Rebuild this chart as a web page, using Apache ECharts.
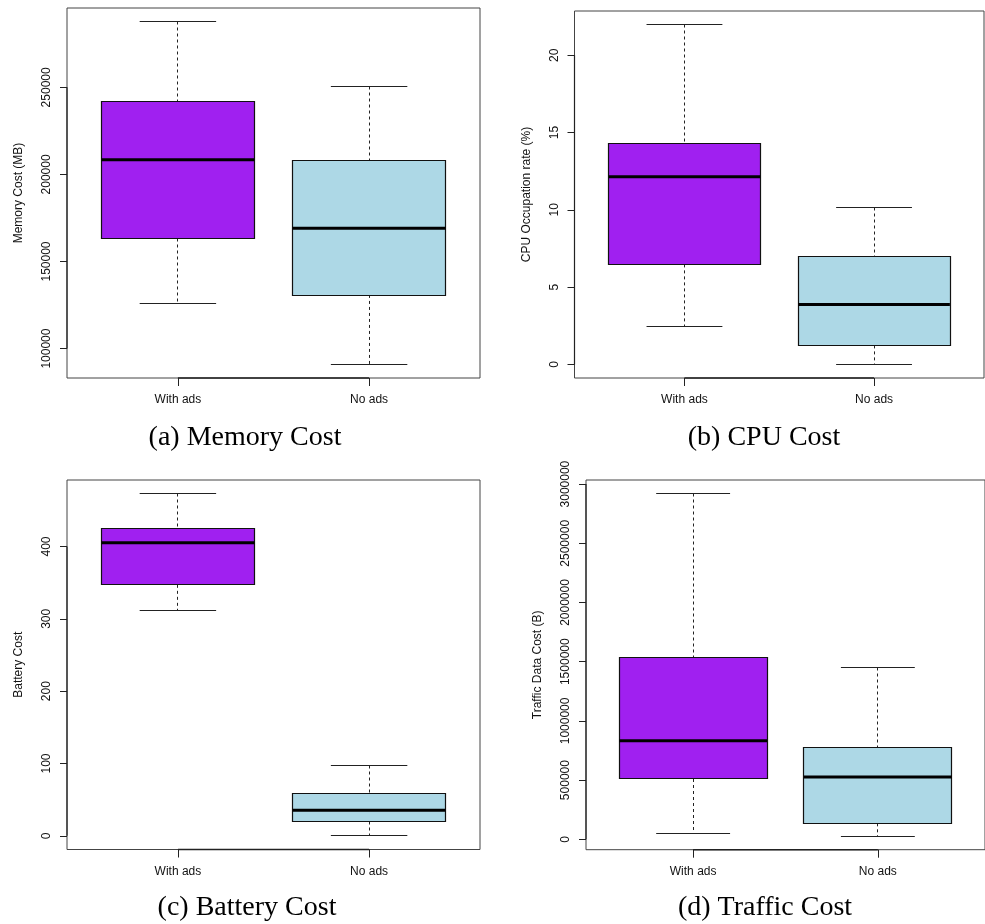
<!DOCTYPE html>
<html>
<head>
<meta charset="utf-8">
<script src="https://cdn.jsdelivr.net/npm/echarts@6/dist/echarts.min.js"></script>
<style>
  html, body { margin: 0; padding: 0; background: #fff; }
  #chart { width: 985px; height: 924px; }
</style>
</head>
<body>
<div id="chart"></div>
<script>
// Groups on the x axis
const categories = ['With ads', 'No ads'];

// Five-number summaries per group: [lower whisker, Q1, median, Q3, upper whisker]
const memoryWithAds = [125860, 163220, 208400, 241950, 287700];
const memoryNoAds   = [90980, 130810, 169140, 208050, 250750];
const cpuWithAds    = [2.48, 6.47, 12.14, 14.30, 21.98];
const cpuNoAds      = [0, 1.23, 3.88, 7.01, 10.12];
const batteryWithAds = [312, 347, 405, 425, 473];
const batteryNoAds   = [0, 19.8, 35.5, 58.1, 97.2];
const trafficWithAds = [50700, 509300, 832800, 1533800, 2918900];
const trafficNoAds   = [27900, 135100, 526200, 773600, 1449300];

// Y tick labels
const memoryTicks  = [100000, 150000, 200000, 250000];
const cpuTicks     = [0, 5, 10, 15, 20];
const batteryTicks = [0, 100, 200, 300, 400];
const trafficTicks = [0, 500000, 1000000, 1500000, 2000000, 2500000, 3000000];

// Axis titles and captions
const yTitles  = ['Memory Cost (MB)', 'CPU Occupation rate (%)', 'Battery Cost', 'Traffic Data Cost (B)'];
const captions = ['(a) Memory Cost', '(b) CPU Cost', '(c) Battery Cost', '(d) Traffic Cost'];

const fills = ['#A020F0', '#ADD8E6'];
const SANS = '"Liberation Sans", Arial, Helvetica, sans-serif';
const SERIF = '"Liberation Serif", "Times New Roman", serif';

const panels = [
  { groups: [memoryWithAds, memoryNoAds], ticks: memoryTicks, title: yTitles[0],
    grid: { left: 67, top: 8, width: 413, height: 370 }, caption: captions[0], cx: 245, cy: 438 },
  { groups: [cpuWithAds, cpuNoAds], ticks: cpuTicks, title: yTitles[1],
    grid: { left: 574.5, top: 11, width: 409.5, height: 367 }, caption: captions[1], cx: 764, cy: 438 },
  { groups: [batteryWithAds, batteryNoAds], ticks: batteryTicks, title: yTitles[2],
    grid: { left: 67, top: 480, width: 413, height: 369.5 }, caption: captions[2], cx: 247, cy: 908 },
  { groups: [trafficWithAds, trafficNoAds], ticks: trafficTicks, title: yTitles[3],
    grid: { left: 586, top: 480, width: 413.4, height: 369.7 }, caption: captions[3], cx: 765, cy: 908 }
];

const X_MIN = 0.42, X_MAX = 2.58;

function yRange(groups) {
  const all = groups.flat();
  const lo = Math.min(...all), hi = Math.max(...all);
  const pad = 0.04 * (hi - lo);
  return [lo - pad, hi + pad];
}

function crisp(v) { return Math.round(v - 0.5) + 0.5; }

// Box-and-whisker glyph for one group
function renderBox(params, api) {
  const x = api.value(0);
  const lo = api.value(1), q1 = api.value(2), med = api.value(3), q3 = api.value(4), hi = api.value(5);
  const fill = fills[params.dataIndex % fills.length];
  const c = api.coord([x, med]);
  const xc = crisp(c[0]);
  const boxL = api.coord([x - 0.4, q3]);
  const boxR = api.coord([x + 0.4, q1]);
  const capL = api.coord([x - 0.2, hi])[0];
  const capR = api.coord([x + 0.2, hi])[0];
  const yLo = crisp(api.coord([x, lo])[1]);
  const yHi = crisp(api.coord([x, hi])[1]);
  const yQ1 = boxR[1], yQ3 = boxL[1], yMed = c[1];
  const dash = { stroke: '#222', lineWidth: 1, lineDash: [3, 3] };
  const solid = { stroke: '#222', lineWidth: 1 };
  return {
    type: 'group',
    children: [
      { type: 'line', shape: { x1: xc, y1: yHi, x2: xc, y2: yQ3 }, style: dash },
      { type: 'line', shape: { x1: xc, y1: yQ1, x2: xc, y2: yLo }, style: dash },
      { type: 'line', shape: { x1: capL, y1: yHi, x2: capR, y2: yHi }, style: solid },
      { type: 'line', shape: { x1: capL, y1: yLo, x2: capR, y2: yLo }, style: solid },
      { type: 'rect', shape: { x: crisp(boxL[0]), y: crisp(yQ3), width: Math.round(boxR[0] - boxL[0]), height: Math.round(yQ1 - yQ3) },
        style: { fill: fill, stroke: '#111', lineWidth: 1.2 } },
      { type: 'line', shape: { x1: boxL[0], y1: yMed, x2: boxR[0], y2: yMed }, style: { stroke: '#000', lineWidth: 3 } }
    ]
  };
}

const grids = [], xAxes = [], yAxes = [], series = [], graphics = [];

panels.forEach((p, i) => {
  const [yMin, yMax] = yRange(p.groups);
  grids.push(Object.assign({ show: true, borderColor: '#444', borderWidth: 1, backgroundColor: 'transparent', containLabel: false }, p.grid));
  xAxes.push({
    type: 'value', gridIndex: i, min: X_MIN, max: X_MAX, position: 'bottom',
    axisLine: { show: false, onZero: false },
    splitLine: { show: false },
    axisTick: { show: true, customValues: [1, 2], length: 8, lineStyle: { color: '#222', width: 1 } },
    axisLabel: {
      customValues: [1, 2], margin: 16, color: '#111', fontSize: 12, fontFamily: SANS,
      formatter: v => categories[Math.round(v) - 1] || ''
    }
  });
  yAxes.push({
    type: 'value', gridIndex: i, min: yMin, max: yMax, position: 'left',
    name: p.title, nameLocation: 'middle', nameGap: 42,
    nameTextStyle: { color: '#111', fontSize: 12, fontFamily: SANS },
    axisLine: { show: false, onZero: false },
    splitLine: { show: false },
    axisTick: { show: true, customValues: p.ticks, length: 7, lineStyle: { color: '#222', width: 1 } },
    axisLabel: {
      customValues: p.ticks, rotate: 90, margin: 14, color: '#111', fontSize: 12, fontFamily: SANS,
      formatter: v => String(Math.round(v))
    }
  });
  series.push({
    type: 'custom', xAxisIndex: i, yAxisIndex: i, renderItem: renderBox, silent: true, clip: false,
    data: p.groups.map((g, k) => [k + 1].concat(g))
  });
  // Axis segments spanning the first to last tick, drawn over the frame
  series.push({
    type: 'custom', xAxisIndex: i, yAxisIndex: i, silent: true, clip: false,
    data: [[1, categories.length, p.ticks[0], p.ticks[p.ticks.length - 1], yMin]],
    renderItem: (params, api) => {
      const a = api.coord([api.value(0), api.value(4)]);
      const b = api.coord([api.value(1), api.value(4)]);
      const t0 = api.coord([X_MIN, api.value(2)]);
      const t1 = api.coord([X_MIN, api.value(3)]);
      const st = { stroke: '#222', lineWidth: 1.6 };
      return { type: 'group', children: [
        { type: 'line', shape: { x1: a[0], y1: a[1], x2: b[0], y2: b[1] }, style: st },
        { type: 'line', shape: { x1: t0[0], y1: t0[1], x2: t1[0], y2: t1[1] }, style: { stroke: '#222', lineWidth: 1.2 } }
      ] };
    }
  });
  graphics.push({
    type: 'text', x: p.cx, y: p.cy,
    style: { text: p.caption, font: '28px ' + SERIF, fill: '#000', textAlign: 'center', textVerticalAlign: 'middle' }
  });
});

const chart = echarts.init(document.getElementById('chart'), null, { renderer: 'canvas' });
chart.setOption({
  animation: false,
  backgroundColor: '#fff',
  grid: grids,
  xAxis: xAxes,
  yAxis: yAxes,
  series: series,
  graphic: graphics
});
</script>
</body>
</html>
